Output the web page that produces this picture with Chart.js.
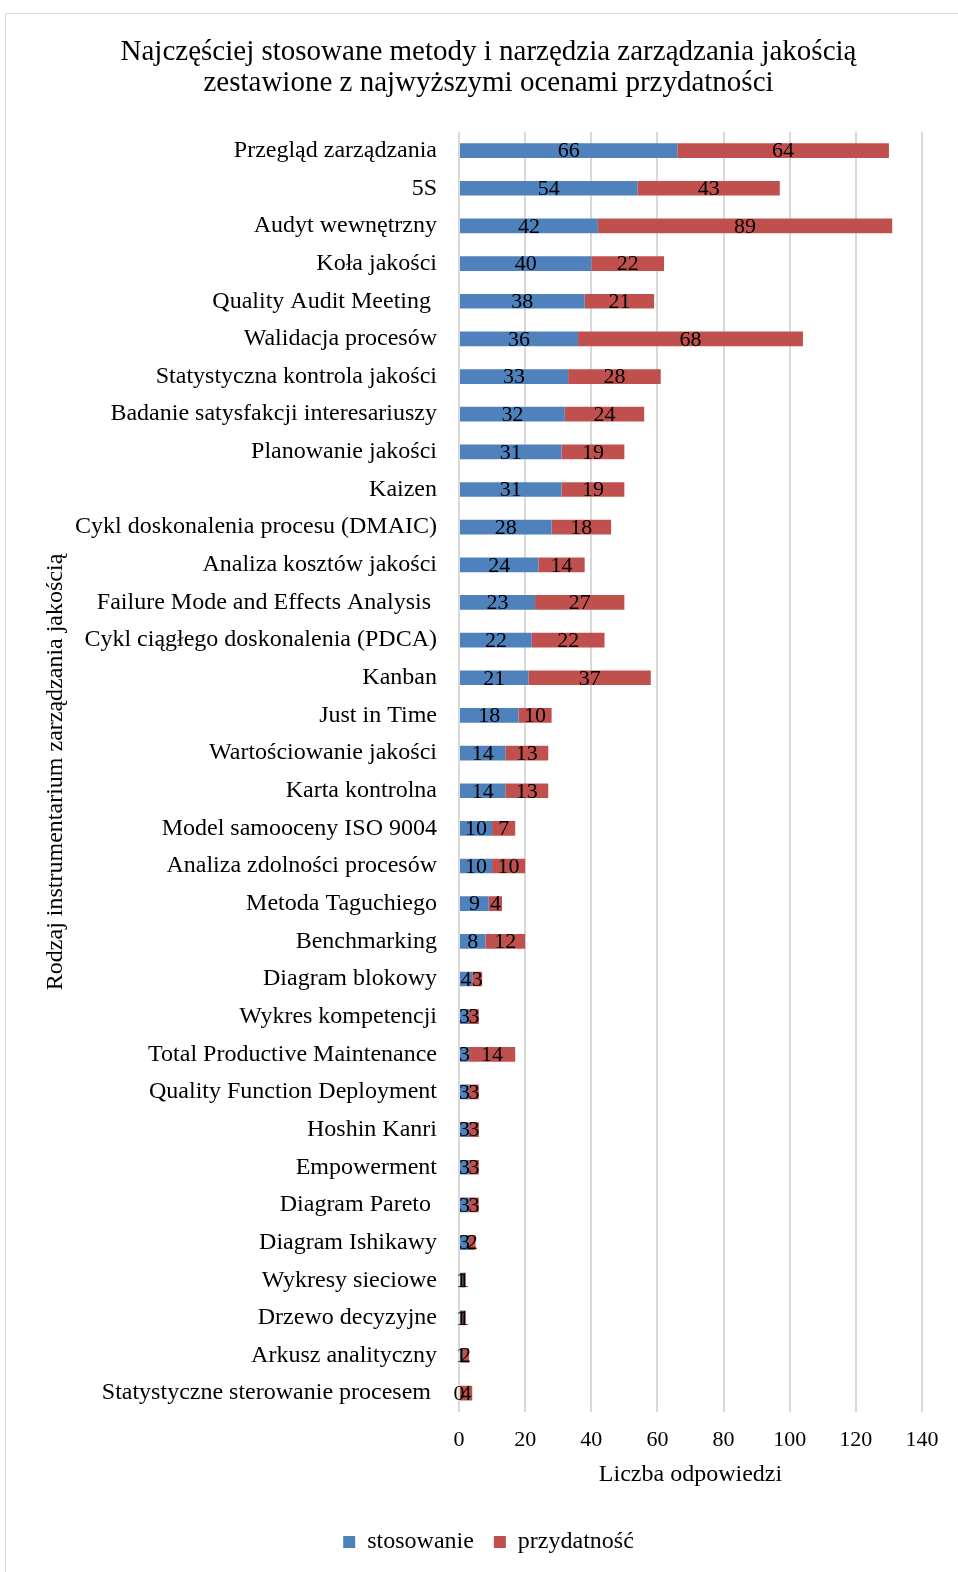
<!DOCTYPE html>
<html lang="pl">
<head>
<meta charset="utf-8">
<title>Metody i narzędzia zarządzania jakością</title>
<script src="https://cdn.jsdelivr.net/npm/chart.js@4"></script>
<style>
  html, body { margin: 0; padding: 0; background: #fff; overflow: hidden; }
  .frame {
    position: absolute; left: 5px; top: 13px; width: 1000px; height: 1600px;
    border: 1px solid #d9d9d9; pointer-events: none;
  }
  #chart { position: absolute; left: 0; top: 0; }
</style>
</head>
<body>
<div class="frame"></div>
<canvas id="chart" width="958" height="1572"></canvas>
<script>
// methods / tools, ordered as in the survey summary
const categories = [
  'Przegląd zarządzania',
  '5S',
  'Audyt wewnętrzny',
  'Koła jakości',
  'Quality Audit Meeting ',
  'Walidacja procesów',
  'Statystyczna kontrola jakości',
  'Badanie satysfakcji interesariuszy',
  'Planowanie jakości',
  'Kaizen',
  'Cykl doskonalenia procesu (DMAIC)',
  'Analiza kosztów jakości',
  'Failure Mode and Effects Analysis ',
  'Cykl ciągłego doskonalenia (PDCA)',
  'Kanban',
  'Just in Time',
  'Wartościowanie jakości',
  'Karta kontrolna',
  'Model samooceny ISO 9004',
  'Analiza zdolności procesów',
  'Metoda Taguchiego',
  'Benchmarking',
  'Diagram blokowy',
  'Wykres kompetencji',
  'Total Productive Maintenance',
  'Quality Function Deployment',
  'Hoshin Kanri',
  'Empowerment',
  'Diagram Pareto ',
  'Diagram Ishikawy',
  'Wykresy sieciowe',
  'Drzewo decyzyjne',
  'Arkusz analityczny',
  'Statystyczne sterowanie procesem '
];

const stosowanie = [66, 54, 42, 40, 38, 36, 33, 32, 31, 31, 28, 24, 23, 22, 21, 18, 14, 14, 10, 10, 9, 8, 4, 3, 3, 3, 3, 3, 3, 3, 1, 1, 1, 0];
const przydatnosc = [64, 43, 89, 22, 21, 68, 28, 24, 19, 19, 18, 14, 27, 22, 37, 10, 13, 13, 7, 10, 4, 12, 3, 3, 14, 3, 3, 3, 3, 2, 1, 1, 2, 4];

const xTicks = [0, 20, 40, 60, 80, 100, 120, 140];

const FONT = '"Liberation Serif", "Times New Roman", serif';

// value printed in the middle of every bar segment
const segmentLabels = {
  id: 'segmentLabels',
  afterDatasetsDraw(chart) {
    const ctx = chart.ctx;
    ctx.save();
    ctx.font = '22px ' + FONT;
    ctx.fillStyle = '#000';
    ctx.textAlign = 'center';
    ctx.textBaseline = 'middle';
    chart.data.datasets.forEach((ds, i) => {
      chart.getDatasetMeta(i).data.forEach((bar, j) => {
        const p = bar.getProps(['x', 'y', 'base'], true);
        ctx.fillText(String(ds.data[j]), (p.x + p.base) / 2, p.y + 1);
      });
    });
    ctx.restore();
  }
};

new Chart(document.getElementById('chart'), {
  type: 'bar',
  data: {
    labels: categories,
    datasets: [
      { label: 'stosowanie', data: stosowanie, backgroundColor: '#4f81bd' },
      { label: 'przydatność', data: przydatnosc, backgroundColor: '#c0504d' }
    ]
  },
  options: {
    responsive: false,
    animation: false,
    indexAxis: 'y',
    categoryPercentage: 1,
    barPercentage: 0.39,
    layout: { padding: { left: 41, right: 22, top: 36, bottom: 8 } },
    scales: {
      x: {
        stacked: true,
        min: 0,
        max: 140,
        afterBuildTicks: (scale) => { scale.ticks = xTicks.map(v => ({ value: v })); },
        afterFit: (scale) => {
          scale.height = 98;
          scale.paddingRight = 36; // room for the "140" label on the right
        },
        grid: { color: '#d9d9d9', lineWidth: 2, drawTicks: false },
        border: { display: false },
        ticks: { color: '#000', font: { family: FONT, size: 22 }, padding: 15 },
        title: {
          display: true,
          text: 'Liczba odpowiedzi',
          color: '#000',
          font: { family: FONT, size: 24 },
          padding: { top: 0, bottom: 21 }
        }
      },
      y: {
        stacked: true,
        afterFit: (scale) => { scale.width = 418; },
        grid: { display: false, drawTicks: false },
        border: { display: false },
        ticks: { color: '#000', font: { family: FONT, size: 24 }, padding: 22, autoSkip: false },
        title: {
          display: true,
          text: 'Rodzaj instrumentarium zarządzania jakością',
          color: '#000',
          font: { family: FONT, size: 24 },
          padding: 0
        }
      }
    },
    plugins: {
      title: {
        display: true,
        text: ['Najczęściej stosowane metody i narzędzia zarządzania jakością',
               'zestawione z najwyższymi ocenami przydatności'],
        color: '#000',
        font: { family: FONT, size: 29, weight: 'normal', lineHeight: 1.1 },
        padding: { top: 0, bottom: 32 }
      },
      legend: {
        position: 'bottom',
        labels: {
          color: '#000',
          font: { family: FONT, size: 24 },
          boxWidth: 12,
          boxHeight: 12,
          padding: 20
        }
      },
      tooltip: { enabled: false }
    }
  },
  plugins: [segmentLabels]
});
</script>
</body>
</html>
